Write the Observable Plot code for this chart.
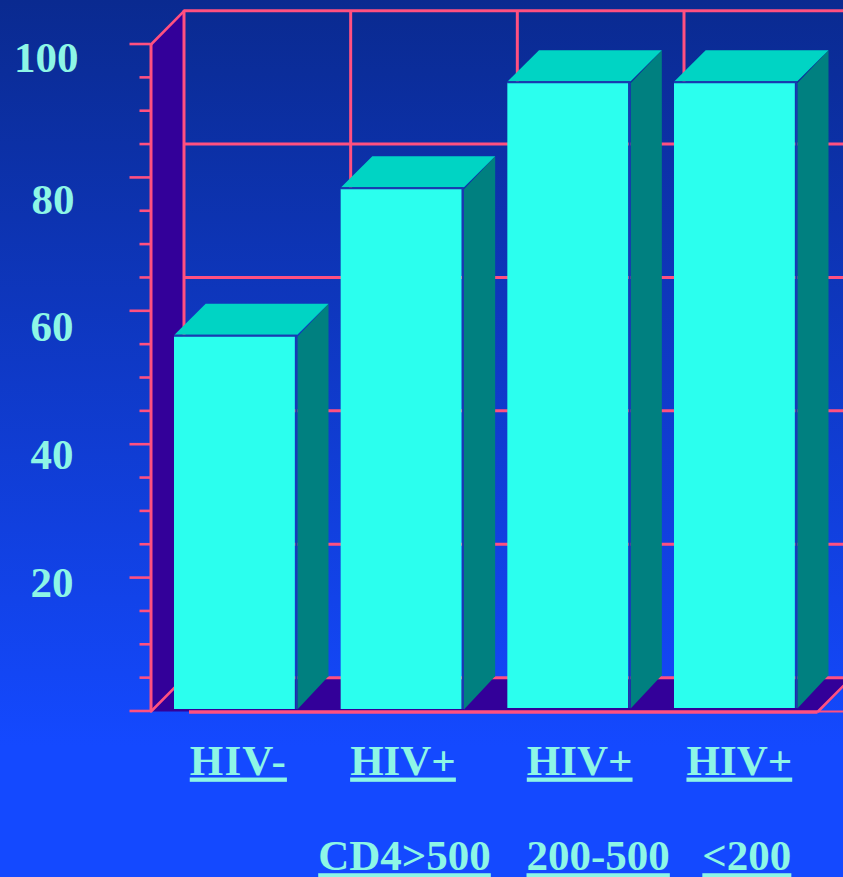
<!DOCTYPE html>
<html>
<head>
<meta charset="utf-8">
<script src="https://cdn.jsdelivr.net/npm/d3@7"></script>
<script src="https://cdn.jsdelivr.net/npm/@observablehq/plot@0.6"></script>
<style>
html, body { margin: 0; padding: 0; background: #1449ff; overflow: hidden; }
.under text { text-decoration: underline; text-decoration-thickness: 4px; text-underline-offset: 5px; }
.wide text { letter-spacing: 1.2px; }
</style>
</head>
<body>
<div id="chart"></div>
<script>
const categories = ["HIV-", "HIV+", "HIV+", "HIV+"];
const subLabels = ["", "CD4>500", "200-500", "<200"];
const values = [56.2, 78.3, 94.2, 94.2];
const baseValues = [0.3, 0.3, 0.45, 0.45];
const majorTicks = [100, 80, 60, 40, 20, 0];
const minorTicks = [95, 90, 85, 75, 70, 65, 55, 50, 45, 35, 30, 25, 15, 10, 5];
const tickLabels = ["100", "80", "60", "40", "20"];

const pink = "#ff5080", purple = "#330099", cyan = "#2bffee", teal = "#008080",
      topTeal = "#00d4c4", edge = "#1a3ab0", labelColor = "#8df6e6";

// Depth of the 3D box in data units
const wallX = -0.141, backX = 0.057, depthY = 5, barW = 0.725, barDX = 0.187, gap = 0.012;
const xMax = 4.014, floorRight = 3.861;

const wall = [[wallX, 0], [wallX, 100], [backX, 100 + depthY], [backX, depthY]].map(([x, y]) => ({x, y}));
const floor = [[wallX, 0], [backX, depthY], [floorRight + 0.198, depthY], [floorRight, 0]].map(([x, y]) => ({x, y}));

const sideRows = values.flatMap((v, i) => {
  const r = i + barW + gap;
  return [[r, v], [r + barDX, v + 4.95], [r + barDX, baseValues[i] + 5], [r, baseValues[i]]].map(([x, y]) => ({x, y, bar: i}));
});
const topRows = values.flatMap((v, i) => {
  const b = v + 0.3;
  return [[i, b], [i + barDX, v + 4.95], [i + barW + gap + barDX, v + 4.95], [i + barW + gap, b]].map(([x, y]) => ({x, y, bar: i}));
});
const bars = values.map((v, i) => ({x1: i, x2: i + barW, y1: baseValues[i], y2: v, i}));
const font = {fontFamily: "Liberation Serif", fontWeight: "bold", fontSize: 43, fill: labelColor};

const yLabelShift = {"100": [0, 27], "80": [-4, 36], "60": [-5, 30], "40": [-5, 24], "20": [-5, 19]};
const catShift = [3, 1, 11, 4];
const subShift = [0, 2.5, 29.5, 11.5];
const pen = {stroke: pink, strokeWidth: 3};

const marks = [
  Plot.line(wall, {x: "x", y: "y", fill: purple, stroke: "none"}),
  Plot.line(floor, {x: "x", y: "y", fill: purple, stroke: "none", clip: true}),
  // back grid
  Plot.ruleY(majorTicks, {y: d => d + depthY, x1: backX, x2: xMax, dy: -0.5, ...pen}),
  Plot.ruleX([0, 1, 2, 3], {x: d => d + backX, y1: depthY, y2: 100 + depthY, dy: -0.5, ...pen}),
  // left wall edges and diagonals
  Plot.ruleX([wallX], {y1: 0, y2: 100, dy: -0.5, ...pen}),
  Plot.line([{x: wallX, y: 100}, {x: backX, y: 100 + depthY}], {x: "x", y: "y", ...pen, strokeWidth: 2.6}),
  Plot.line([{x: wallX, y: 0}, {x: backX, y: depthY}], {x: "x", y: "y", ...pen, strokeWidth: 2.6}),
  Plot.line([{x: floorRight, y: 0}, {x: floorRight + 0.198, y: depthY}], {x: "x", y: "y", ...pen, strokeWidth: 2.6, clip: true}),
  // ticks
  Plot.ruleY(majorTicks, {y: d => d, x1: wallX - 0.126, x2: wallX, dy: -0.5, ...pen, strokeWidth: 2.6}),
  Plot.ruleY(minorTicks, {y: d => d, x1: wallX - 0.066, x2: wallX, dy: -0.5, ...pen, strokeWidth: 2.6}),
  // baseline
  Plot.ruleY([0], {x1: floorRight, x2: xMax, dy: 0, ...pen, strokeWidth: 2}),
  Plot.ruleY([0], {x1: 0.09, x2: floorRight, dy: 0.5, ...pen, strokeWidth: 3.4}),
  // bars
  Plot.line(sideRows, {x: "x", y: "y", z: "bar", fill: teal, stroke: "none"}),
  Plot.line(topRows, {x: "x", y: "y", z: "bar", fill: topTeal, stroke: "none"}),
  Plot.rect(bars, {x1: "x1", x2: "x2", y1: "y1", y2: "y2", fill: cyan}),
  Plot.ruleX(bars, {x: d => d.x2 + gap / 2, y1: "y1", y2: "y2", stroke: edge, strokeWidth: 2}),
  Plot.ruleY(bars, {y: "y2", x1: "x1", x2: d => d.x2 + gap, dy: -1, stroke: edge, strokeWidth: 2})
];

// y tick labels sit at their own offsets relative to the ticks
tickLabels.forEach(t => {
  const [dx, dy] = yLabelShift[t];
  marks.push(Plot.text([t], {x: -0.576, y: d => +d, text: d => d, textAnchor: "end", lineAnchor: "bottom", dx, dy, ...font}));
});
categories.forEach((c, i) => {
  marks.push(Plot.text([c], {x: i + 0.365, y: -9.45, text: d => d, textAnchor: "middle", lineAnchor: "bottom", dx: catShift[i], className: i === 0 ? "under wide" : "under", ...font}));
  if (subLabels[i]) marks.push(Plot.text([subLabels[i]], {x: i + 0.365, y: -23.8, text: d => d, textAnchor: "middle", lineAnchor: "bottom", dx: subShift[i], className: "under", ...font}));
});

const chart = Plot.plot({
  width: 843,
  height: 877,
  margin: 0,
  x: {domain: [-1.044, xMax], range: [0, 843], axis: null},
  y: {domain: [-24.89, 106.6], range: [877, 0], axis: null},
  style: {background: "linear-gradient(#0a2a90 0%, #1449ff 85%)", display: "block"},
  marks
});
document.getElementById("chart").append(chart);
</script>
</body>
</html>
